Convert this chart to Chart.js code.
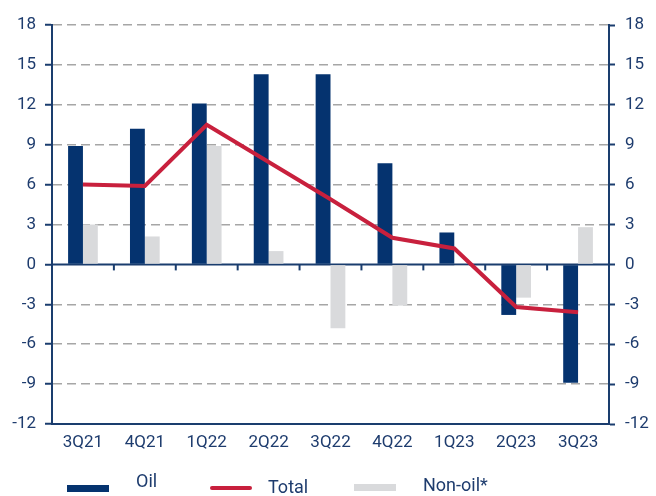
<!DOCTYPE html>
<html>
<head>
<meta charset="utf-8">
<script src="https://cdn.jsdelivr.net/npm/chart.js@4"></script>
<style>
  body { margin: 0; background: #fff; }
  #wrap { position: relative; width: 656px; height: 496px; }
  .lg-box { position: absolute; }
  .lg-text { position: absolute; font: 18px Roboto, sans-serif; color: #1e3c6e; line-height: 20px; }
</style>
</head>
<body>
<div id="wrap">
  <canvas id="chart" width="656" height="496"></canvas>
</div>
<script>
// Chart data
const quarters = ['3Q21', '4Q21', '1Q22', '2Q22', '3Q22', '4Q22', '1Q23', '2Q23', '3Q23'];
const oilValues = [8.9, 10.2, 12.1, 14.3, 14.3, 7.6, 2.4, -3.8, -8.9];
const nonOilValues = [3.0, 2.1, 8.9, 1.0, -4.8, -3.1, -0.1, -2.5, 2.8];
const totalValues = [6.0, 5.9, 10.5, 7.7, 4.9, 2.0, 1.2, -3.2, -3.6];
const yTicks = [-12, -9, -6, -3, 0, 3, 6, 9, 12, 15, 18];

const navy = '#05336f';
const axisNavy = '#1a3d6e';
const red = '#c8203d';
const grey = '#d9dadc';
const textColor = '#1e3c6e';

// zero line + category tick marks sitting on it
const zeroLinePlugin = {
    id: 'zeroLine',
    beforeDatasetsDraw(chart) {
        const ctx = chart.ctx;
        const x = chart.scales.x;
        const y = chart.scales.y;
        const y0 = y.getPixelForValue(0);
        ctx.save();
        ctx.strokeStyle = axisNavy;
        ctx.lineWidth = 2;
        ctx.beginPath();
        ctx.moveTo(chart.chartArea.left, y0);
        ctx.lineTo(chart.chartArea.right, y0);
        ctx.stroke();
        for (let i = 1; i < quarters.length; i++) {
            const px = (x.getPixelForValue(i - 1) + x.getPixelForValue(i)) / 2;
            ctx.beginPath();
            ctx.moveTo(px, y0);
            ctx.lineTo(px, y0 + 6);
            ctx.stroke();
        }
        ctx.restore();
    }
};

const chart = new Chart(document.getElementById('chart'), {
    type: 'bar',
    data: {
        labels: quarters,
        datasets: [{
            label: 'Oil',
            data: oilValues,
            backgroundColor: navy,
            categoryPercentage: 0.48,
            barPercentage: 1.0,
            order: 1
        }, {
            type: 'line',
            label: 'Total',
            data: totalValues,
            borderColor: red,
            backgroundColor: red,
            borderWidth: 4,
            pointRadius: 0,
            tension: 0,
            order: 0
        }, {
            label: 'Non-oil*',
            data: nonOilValues,
            backgroundColor: grey,
            categoryPercentage: 0.48,
            barPercentage: 1.0,
            order: 1
        }]
    },
    options: {
        responsive: false,
        animation: false,
        layout: {
            padding: { top: 25, bottom: 38, left: 0, right: 0 }
        },
        plugins: {
            legend: { display: false },
            tooltip: { enabled: false }
        },
        scales: {
            x: {
                grid: { display: false, drawTicks: false },
                border: { display: true, color: axisNavy, width: 2 },
                ticks: {
                    color: textColor,
                    font: { family: 'Roboto', size: 17 },
                    padding: 9,
                    maxRotation: 0
                },
                afterFit(scale) { scale.height = 34; }
            },
            y: {
                position: 'left',
                min: -12,
                max: 18,
                afterBuildTicks(scale) { scale.ticks = yTicks.map(v => ({ value: v })); },
                grid: {
                    color: ctx => (ctx.tick && ctx.tick.value === 0) || ctx.index === 0 ? 'rgba(0,0,0,0)' : '#a6a6a6',
                    lineWidth: 1.5,
                    tickColor: axisNavy,
                    tickLength: 7,
                    tickWidth: 2
                },
                border: { display: true, color: axisNavy, width: 2, dash: [9, 5] },
                ticks: {
                    color: textColor,
                    font: { family: 'Roboto', size: 17 },
                    padding: 9
                },
                afterFit(scale) { scale.width = 52; }
            },
            y2: {
                position: 'right',
                min: -12,
                max: 18,
                afterBuildTicks(scale) { scale.ticks = yTicks.map(v => ({ value: v })); },
                grid: {
                    drawOnChartArea: false,
                    tickColor: axisNavy,
                    tickLength: 6,
                    tickWidth: 2
                },
                border: { display: true, color: axisNavy, width: 2 },
                ticks: {
                    color: textColor,
                    font: { family: 'Roboto', size: 17 },
                    padding: 10
                },
                afterFit(scale) { scale.width = 47; }
            }
        }
    },
    plugins: [zeroLinePlugin]
});

// HTML legend built from the datasets
const legendSpots = [
    { box: [67, 485, 42, 7], text: [136, 471] },
    { box: [210, 486, 42, 4], text: [268, 477] },
    { box: [354, 484, 42, 7], text: [423, 475] }
];
const wrap = document.getElementById('wrap');
chart.data.datasets.forEach((ds, i) => {
    const spot = legendSpots[i];
    const box = document.createElement('div');
    box.className = 'lg-box';
    box.style.left = spot.box[0] + 'px';
    box.style.top = spot.box[1] + 'px';
    box.style.width = spot.box[2] + 'px';
    box.style.height = spot.box[3] + 'px';
    box.style.background = ds.type === 'line' ? ds.borderColor : ds.backgroundColor;
    if (ds.type === 'line') box.style.borderRadius = '2px';
    wrap.appendChild(box);
    const txt = document.createElement('div');
    txt.className = 'lg-text';
    txt.style.left = spot.text[0] + 'px';
    txt.style.top = spot.text[1] + 'px';
    txt.textContent = ds.label;
    wrap.appendChild(txt);
});
</script>
</body>
</html>
